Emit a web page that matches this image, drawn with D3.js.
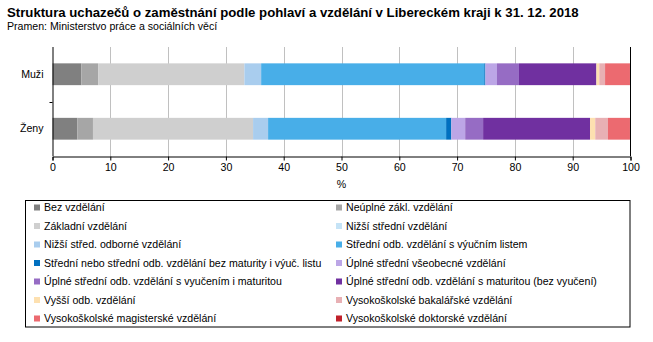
<!DOCTYPE html>
<html><head><meta charset="utf-8">
<script src="https://cdn.jsdelivr.net/npm/d3@7"></script>
<style>body{margin:0;background:#fff}svg{display:block;font-family:"Liberation Sans",Arial,sans-serif}</style>
</head><body><svg id="c" width="653" height="342"></svg>
<script>
const categories = ["Muži", "Ženy"];
const seriesNames = [
  "Bez vzdělání", "Neúplné zákl. vzdělání",
  "Základní vzdělání", "Nižší střední vzdělání",
  "Nižší střed. odborné vzdělání", "Střední odb. vzdělání s výučním listem",
  "Střední nebo střední odb. vzdělání bez maturity i výuč. listu", "Úplné střední všeobecné vzdělání",
  "Úplné střední odb. vzdělání s vyučením i maturitou", "Úplné střední odb. vzdělání s maturitou (bez vyučení)",
  "Vyšší odb. vzdělání", "Vysokoškolské bakalářské vzdělání",
  "Vysokoškolské magisterské vzdělání", "Vysokoškolské doktorské vzdělání"
];
const seriesColors = ["#808080","#a6a6a6","#cfcfcf","#c5e3f6","#a9cdee","#48aee8","#0070c0","#bca6e6","#966cc4","#7030a0","#fde0b0","#e8b0b4","#ec6a70","#c0202a"];
const valuesMuzi = [5.0, 2.9, 25.3, 0.0, 2.9, 38.6, 0.2, 2.0, 3.8, 13.4, 0.5, 1.0, 4.3, 0.1];
const valuesZeny = [4.3, 2.7, 27.7, 0.0, 2.6, 30.8, 0.9, 2.4, 3.1, 18.5, 0.9, 2.2, 3.8, 0.1];
const xTicks = [0,10,20,30,40,50,60,70,80,90,100];
const titleText = "Struktura uchazečů o zaměstnání podle pohlaví a vzdělání v Libereckém kraji k 31. 12. 2018";
const subtitleText = "Pramen: Ministerstvo práce a sociálních věcí";
const xLabel = "%";

const FS = "10.6px";
const svg = d3.select("#c");
const L = 52.5, R = 630.5, T = 47, B = 156;
const x = d3.scaleLinear().domain([0,100]).range([L,R]);
const y = d3.scaleBand().domain(categories).range([T,B]).paddingInner(0.6).paddingOuter(0.3);

svg.append("text").attr("x",7).attr("y",17).attr("font-size","13.2px").attr("font-weight","bold").attr("fill","#000").text(titleText);
svg.append("text").attr("x",7).attr("y",29.5).attr("font-size",FS).attr("fill","#000").text(subtitleText);

// gridlines
svg.append("g").selectAll("line").data(xTicks.slice(1,-1)).join("line")
  .attr("x1",d=>Math.round(x(d))+0.5).attr("x2",d=>Math.round(x(d))+0.5)
  .attr("y1",T).attr("y2",B).attr("stroke","#c0c0c0").attr("stroke-width",1);

// stacked bars
const rows = categories.map((c,i)=>{ const v = i===0?valuesMuzi:valuesZeny; const o={cat:c}; seriesNames.forEach((s,j)=>o[s]=v[j]); return o;});
const stack = d3.stack().keys(seriesNames)(rows);
svg.append("g").selectAll("g").data(stack).join("g").attr("fill",(d,i)=>seriesColors[i])
  .selectAll("rect").data(d=>d).join("rect")
  .attr("x",d=>x(d[0])).attr("width",d=>Math.max(0,x(d[1])-x(d[0])))
  .attr("y",d=>y(d.data.cat)).attr("height",y.bandwidth());

// axes
const xAxis = svg.append("g").attr("transform",`translate(0,${B+0.5})`)
  .call(d3.axisBottom(x).tickValues(xTicks).tickSize(4).tickSizeOuter(4).tickFormat(d3.format("d")));
xAxis.select(".domain").attr("stroke","#000");
xAxis.selectAll(".tick line").attr("stroke","#000");
xAxis.selectAll("text").attr("font-size",FS).attr("font-family","Liberation Sans, Arial, sans-serif").attr("fill","#000").attr("dy","0.4em").attr("y",10);

const yAxis = svg.append("g").attr("transform",`translate(${L},0)`)
  .call(d3.axisLeft(y).tickSize(0).tickPadding(9));
yAxis.select(".domain").attr("stroke","#000").attr("d",`M0.5,${T}V${B}`);
yAxis.selectAll("text").attr("font-size",FS).attr("font-family","Liberation Sans, Arial, sans-serif").attr("fill","#000");
// band-separator ticks on left axis
const sepY = [T + (B-T)/2];
svg.append("g").selectAll("line").data(sepY).join("line")
  .attr("x1",L-3).attr("x2",L).attr("y1",d=>Math.round(d)+0.5).attr("y2",d=>Math.round(d)+0.5).attr("stroke","#000");
// right border
svg.append("line").attr("x1",x(100)).attr("x2",x(100)).attr("y1",T).attr("y2",B).attr("stroke","#000");

svg.append("text").attr("x",(L+R)/2).attr("y",188).attr("text-anchor","middle").attr("font-size",FS).attr("fill","#000").text(xLabel);

// legend
const lg = svg.append("g");
lg.append("rect").attr("x",25.5).attr("y",200.5).attr("width",604.5).attr("height",126.5).attr("fill","none").attr("stroke","#000");
const item = lg.selectAll("g.it").data(seriesNames).join("g").attr("class","it")
  .attr("transform",(d,i)=>`translate(${i%2===0?34:336},${207.5 + Math.floor(i/2)*18.5})`);
item.append("rect").attr("x",0).attr("y",-3).attr("width",6).attr("height",6).attr("fill",(d,i)=>seriesColors[i]);
item.append("text").attr("x",10).attr("y",0).attr("dy","0.35em").attr("font-size",FS).attr("fill","#000").text(d=>d);
</script></body></html>
